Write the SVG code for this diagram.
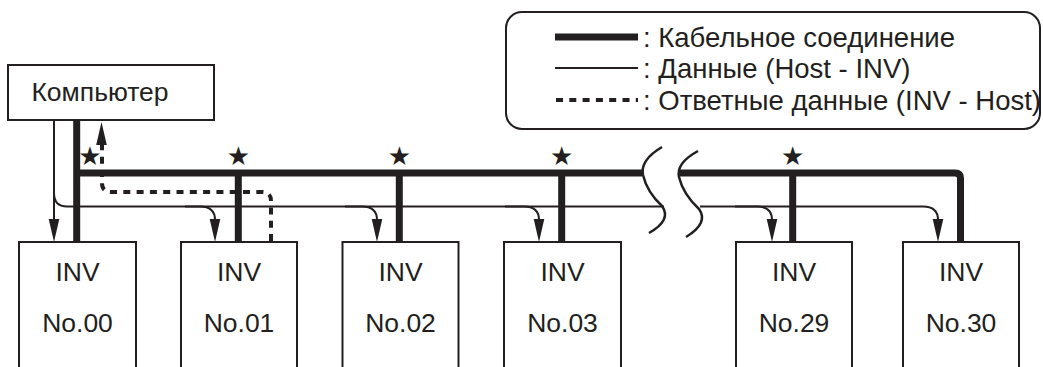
<svg xmlns="http://www.w3.org/2000/svg" width="1043" height="367" viewBox="0 0 1043 367">
  <style>
    .box { fill: #ffffff; stroke: #231f20; stroke-width: 2; }
    .txt { font-family: "Liberation Sans", Arial, sans-serif; font-size: 26.5px; fill: #231f20; }
    .leg { font-size: 27.5px; }
    .mid { text-anchor: middle; }
    .cable { fill: none; stroke: #231f20; stroke-width: 7; }
    .data { fill: none; stroke: #231f20; stroke-width: 2; }
    .resp { fill: none; stroke: #231f20; stroke-width: 4; stroke-dasharray: 7 6.3; }
    .brk { fill: none; stroke: #231f20; stroke-width: 2.5; }
    .star { font-family: "DejaVu Sans", sans-serif; font-size: 26px; fill: #231f20; text-anchor: middle; }
    .head { fill: #231f20; }
  </style>
  <defs>
    <path id="ah" d="M-5.3,-23 L5.3,-23 L0,0 Z" class="head"/>
  </defs>

  <!-- legend -->
  <g id="legend">
    <rect x="506" y="12" width="534" height="117" rx="16" ry="16" class="box"/>
    <line x1="555" y1="37" x2="638" y2="37" class="cable" stroke-width="6"/>
    <text x="643" y="47" class="txt leg">: Кабельное соединение</text>
    <line x1="555" y1="68" x2="638" y2="68" class="data"/>
    <text x="643" y="78" class="txt leg">: Данные (Host - INV)</text>
    <line x1="556" y1="100" x2="638" y2="100" class="resp"/>
    <text x="643" y="110" class="txt leg">: Ответные данные (INV - Host)</text>
  </g>

  <!-- computer -->
  <g id="computer">
    <rect x="8" y="65" width="206" height="55" class="box"/>
    <text x="100" y="101" class="txt mid">Компьютер</text>
  </g>

  <!-- inverters -->
  <g id="inv00">
    <rect x="19" y="242" width="117" height="140" class="box"/>
    <text x="77.5" y="281" class="txt mid">INV</text>
    <text x="77.5" y="332" class="txt mid">No.00</text>
  </g>
  <g id="inv01">
    <rect x="181" y="242" width="116" height="140" class="box"/>
    <text x="239" y="281" class="txt mid">INV</text>
    <text x="239" y="332" class="txt mid">No.01</text>
  </g>
  <g id="inv02">
    <rect x="342.5" y="242" width="116" height="140" class="box"/>
    <text x="400.5" y="281" class="txt mid">INV</text>
    <text x="400.5" y="332" class="txt mid">No.02</text>
  </g>
  <g id="inv03">
    <rect x="504" y="242" width="117" height="140" class="box"/>
    <text x="562.5" y="281" class="txt mid">INV</text>
    <text x="562.5" y="332" class="txt mid">No.03</text>
  </g>
  <g id="inv29">
    <rect x="736" y="242" width="116" height="140" class="box"/>
    <text x="794" y="281" class="txt mid">INV</text>
    <text x="794" y="332" class="txt mid">No.29</text>
  </g>
  <g id="inv30">
    <rect x="903" y="242" width="116" height="140" class="box"/>
    <text x="961" y="281" class="txt mid">INV</text>
    <text x="961" y="332" class="txt mid">No.30</text>
  </g>

  <!-- connectors -->
  <g id="connectors">
    <!-- response data (dashed) -->
    <path d="M271,241 L271,201 Q271,192 262,192 L111,192 Q102,192 102,183 L102,142" class="resp"/>
    <use href="#ah" transform="translate(101.5,122) rotate(180)"/>

    <!-- cable bus -->
    <path d="M76.7,120 L76.7,242 M76.7,173 L642,173" class="cable"/>
    <path d="M678,173 L955,173 Q960.5,173 960.5,178 L960.5,242" class="cable"/>
    <path d="M238.3,173 L238.3,242 M399.3,173 L399.3,242 M561.7,173 L561.7,242 M792.7,173 L792.7,242" class="cable"/>

    <!-- data (host to INV) -->
    <path d="M54,120 L54,220" class="data"/>
    <use href="#ah" transform="translate(54,242)"/>
    <path d="M54,193 Q54,206.5 67,206.5 L664,206.5" class="data"/>
    <path d="M700,206.5 L923,206.5 Q938,206.5 938,220" class="data"/>
    <use href="#ah" transform="translate(938,242)"/>

    <path d="M185,206.5 L200,206.5 Q215,206.5 215,220" class="data"/>
    <use href="#ah" transform="translate(215,242)"/>
    <path d="M345,206.5 L362,206.5 Q377,206.5 377,220" class="data"/>
    <use href="#ah" transform="translate(377,242)"/>
    <path d="M505,206.5 L524,206.5 Q539,206.5 539,220" class="data"/>
    <use href="#ah" transform="translate(539,242)"/>
    <path d="M735,206.5 L757,206.5 Q772,206.5 772,220" class="data"/>
    <use href="#ah" transform="translate(772,242)"/>

    <!-- break marks -->
    <path d="M662,147 Q640,160 643,175 Q647,192 662,206 Q672,220 649,233" class="brk"/>
    <path d="M698,151 Q676,163 679,177 Q683,194 699,209 Q709,223 686,237" class="brk"/>

    <!-- stars -->
    <text x="90" y="165" class="star">★</text>
    <text x="238.3" y="165" class="star">★</text>
    <text x="399.3" y="165" class="star">★</text>
    <text x="561.7" y="165" class="star">★</text>
    <text x="792.7" y="165" class="star">★</text>
  </g>
</svg>
